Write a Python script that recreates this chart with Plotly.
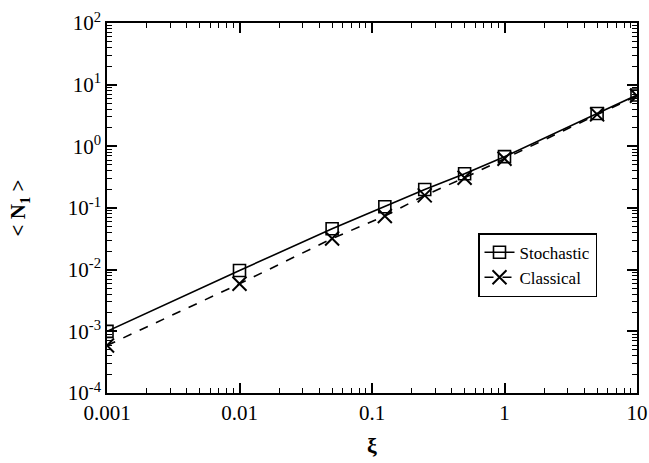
import plotly.graph_objects as go

xi = [0.001, 0.01, 0.05, 0.125, 0.25, 0.5, 1, 5, 10]
stochastic = [0.001, 0.0097, 0.046, 0.105, 0.2, 0.36, 0.68, 3.4, 6.8]
classical = [0.00059, 0.0059, 0.032, 0.074, 0.16, 0.31, 0.63, 3.3, 6.6]

y_tickvals = [1e-4, 1e-3, 1e-2, 1e-1, 1, 10, 100]
y_ticktext = ["10<sup>-4</sup>", "10<sup>-3</sup>", "10<sup>-2</sup>", "10<sup>-1</sup>",
              "10<sup>0</sup>", "10<sup>1</sup>", "10<sup>2</sup>"]
x_tickvals = [0.001, 0.01, 0.1, 1, 10]
x_ticktext = ["0.001", "0.01", "0.1", "1", "10"]

font = "Times New Roman, Liberation Serif, DejaVu Serif, serif"

x_minor = [m * 10 ** e for e in range(-3, 1) for m in range(2, 10)]
y_minor = [m * 10 ** e for e in range(-4, 2) for m in range(2, 10)]

fig = go.Figure()
fig.add_trace(go.Scatter(
    x=xi, y=stochastic, name="Stochastic", mode="lines+markers",
    line=dict(color="black", width=1.6, dash="solid"),
    marker=dict(symbol="square-open", size=12, color="black", line=dict(width=1.6)),
))
fig.add_trace(go.Scatter(
    x=xi, y=classical, name="Classical", mode="lines+markers",
    line=dict(color="black", width=1.6, dash="dash"),
    marker=dict(symbol="x-thin-open", size=14, color="black", line=dict(width=2)),
))
# invisible trace to carry the mirrored (top/right) axes
fig.add_trace(go.Scatter(
    x=xi, y=stochastic, xaxis="x2", yaxis="y2", mode="markers",
    marker=dict(opacity=0), showlegend=False, hoverinfo="skip",
))

tick_common = dict(
    type="log", showgrid=False, zeroline=False, showline=True, linecolor="black",
    linewidth=1.5, ticks="inside", ticklen=10, tickwidth=1.5, automargin=False,
    tickcolor="black", tickfont=dict(family=font, size=21, color="black"),
    minor=dict(ticks="inside", ticklen=5, tickwidth=1, tickcolor="black", showgrid=False),
)

fig.update_layout(
    xaxis=dict(**tick_common, range=[-3, 1], tickvals=x_tickvals, ticktext=x_ticktext,
               minor_tickvals=x_minor,
               title=dict(text="<b>ξ</b>", font=dict(family=font, size=22, color="black"),
                          standoff=14)),
    yaxis=dict(**tick_common, range=[-4, 2], tickvals=y_tickvals, ticktext=y_ticktext,
               minor_tickvals=y_minor,
               title=dict(text="<b>&lt; N<sub>1</sub> &gt;</b>",
                          font=dict(family=font, size=21, color="black"), standoff=36)),
    xaxis2=dict(**tick_common, range=[-3, 1], tickvals=x_tickvals, minor_tickvals=x_minor,
                overlaying="x", side="top", anchor="y2", showticklabels=False),
    yaxis2=dict(**tick_common, range=[-4, 2], tickvals=y_tickvals, minor_tickvals=y_minor,
                overlaying="y", side="right", anchor="x2", showticklabels=False),
    width=649, height=463,
    margin=dict(l=107, r=12, t=23, b=70),
    paper_bgcolor="white", plot_bgcolor="white",
    font=dict(family=font, color="black"),
    showlegend=True,
    legend=dict(x=0.70, y=0.432, xanchor="left", yanchor="top",
                bgcolor="white", bordercolor="black", borderwidth=1.5,
                font=dict(family=font, size=17, color="black"),
                tracegroupgap=0, itemwidth=30),
)

fig.write_html("out.html", config={"displayModeBar": False},
               post_script="document.body.style.margin='0';")
